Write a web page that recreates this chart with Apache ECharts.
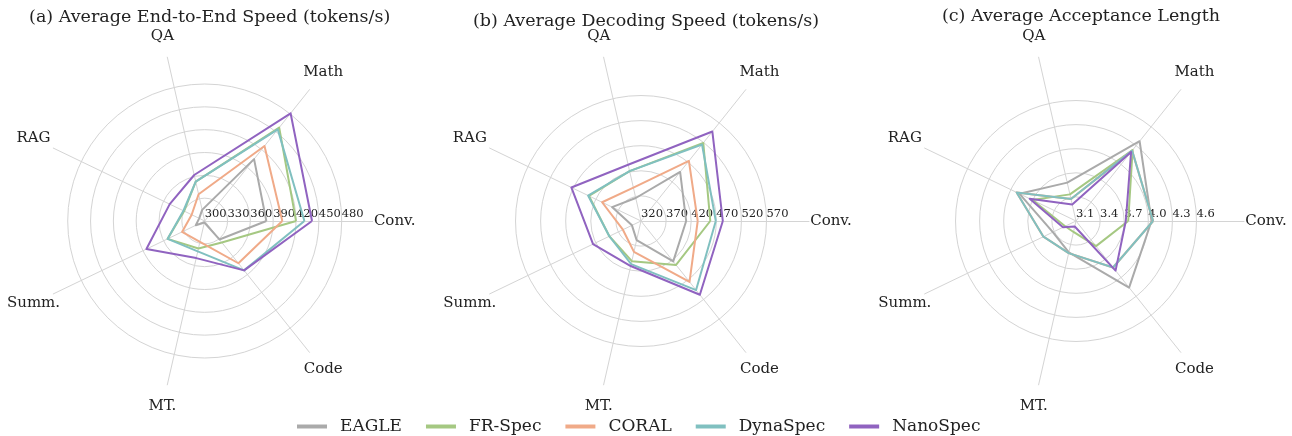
<!DOCTYPE html>
<html>
<head>
<meta charset="utf-8">
<script src="https://cdn.jsdelivr.net/npm/echarts@6/dist/echarts.min.js"></script>
<style>
html, body { margin: 0; padding: 0; background: #fff; }
#main { width: 1292px; height: 436px; }
</style>
</head>
<body>
<div id="main"></div>
<script>
var categories = ['Conv.', 'Math', 'QA', 'RAG', 'Summ.', 'MT.', 'Code'];
var methods = ['EAGLE', 'FR-Spec', 'CORAL', 'DynaSpec', 'NanoSpec'];
var colors = ['#aaaaaa', '#a5c882', '#f0aa88', '#80c0c0', '#9063c0'];

var titles = [
	'(a) Average End-to-End Speed (tokens/s)',
	'(b) Average Decoding Speed (tokens/s)',
	'(c) Average Acceptance Length'
];

// (a) end-to-end speed
var e2eEagle    = [381, 404, 315, 308, 313, 302, 331];
var e2eFrSpec   = [420, 457, 353, 330, 354, 337, 336];
var e2eCoral    = [402, 426, 336, 319, 333, 328, 371];
var e2eDynaSpec = [431, 454, 353, 331, 354, 341, 383];
var e2eNanoSpec = [441, 481, 362, 351, 385, 350, 383];
var e2eScale = [300, 480, 6]; // min, max, rings

// (b) decoding speed
var decEagle    = [410, 445, 367, 384, 340, 359, 423];
var decFrSpec   = [458, 519, 422, 435, 390, 402, 432];
var decCoral    = [433, 473, 388, 406, 360, 383, 475];
var decDynaSpec = [469, 515, 422, 437, 390, 408, 496];
var decNanoSpec = [483, 548, 435, 474, 426, 412, 508];
var decScale = [320, 570, 5];

// (c) acceptance length
var accEagle    = [4.04, 4.37, 3.59, 3.88, 3.42, 3.50, 4.16];
var accFrSpec   = [3.75, 4.23, 3.44, 3.70, 3.25, 3.24, 3.50];
var accCoral    = [4.06, 4.22, 3.38, 3.92, 3.55, 3.51, 3.84];
var accDynaSpec = [4.06, 4.22, 3.38, 3.92, 3.55, 3.51, 3.84];
var accNanoSpec = [3.72, 4.20, 3.31, 3.74, 3.28, 3.17, 3.89];
var accScale = [3.1, 4.6, 5];

var panels = [
	{ data: [e2eEagle, e2eFrSpec, e2eCoral, e2eDynaSpec, e2eNanoSpec], scale: e2eScale, dec: 0 },
	{ data: [decEagle, decFrSpec, decCoral, decDynaSpec, decNanoSpec], scale: decScale, dec: 0 },
	{ data: [accEagle, accFrSpec, accCoral, accDynaSpec, accNanoSpec], scale: accScale, dec: 1 }
];

// layout
var centersX = [204.7, 641, 1076];
var centerY = 221;
var ringRadius = [137, 125.5, 120.5];
var spokeRadius = 168;
var titleTop = [3, 7, 2];
var FONT = 'DejaVu Serif';
var GRID = '#d4d4d4';
var TXT = '#222';

var radars = [];
var series = [];
var titleList = [];

panels.forEach(function (p, k) {
	var dec = p.dec;
	// ring radar that carries the data and the radial tick labels
	radars.push({
		center: [centersX[k], centerY],
		radius: ringRadius[k],
		startAngle: 0,
		shape: 'circle',
		splitNumber: p.scale[2],
		indicator: categories.map(function (c, i) {
			var o = { name: c, min: p.scale[0], max: p.scale[1] };
			if (i === 0) o.axisLabel = { show: true };
			return o;
		}),
		axisName: { show: false },
		axisLine: { show: false },
		axisTick: { show: false },
		splitLine: { lineStyle: { color: GRID, width: 1 } },
		splitArea: { show: false },
		axisLabel: {
			show: false,
			color: TXT,
			fontFamily: FONT,
			fontSize: 11.5,
			align: 'left',
			verticalAlign: 'bottom',
			margin: 1,
			formatter: function (v) { return Number(v).toFixed(dec); }
		}
	});
	titleList.push({
		text: titles[k],
		left: centersX[k],
		top: titleTop[k],
		textAlign: 'center',
		textStyle: { fontFamily: FONT, fontSize: 17.5, fontWeight: 'normal', color: TXT }
	});
	series.push({
		type: 'radar',
		radarIndex: k,
		symbol: 'none',
		data: methods.map(function (m, j) {
			return {
				name: m,
				value: p.data[j],
				lineStyle: { color: colors[j], width: 2 },
				itemStyle: { color: colors[j] }
			};
		})
	});
});

// spoke radars: longer axis lines and the category names
panels.forEach(function (p, k) {
	radars.push({
		center: [centersX[k], centerY],
		radius: spokeRadius,
		startAngle: 0,
		shape: 'circle',
		indicator: categories.map(function (c) { return { name: c, min: 0, max: 1 }; }),
		axisNameGap: 22,
		axisName: { color: TXT, fontFamily: FONT, fontSize: 15, align: 'center', verticalAlign: 'middle' },
		axisLine: { lineStyle: { color: GRID, width: 1 } },
		splitLine: { show: false },
		splitArea: { show: false }
	});
});

var myChart = echarts.init(document.getElementById('main'));
myChart.setOption({
	animation: false,
	backgroundColor: '#fff',
	title: titleList,
	legend: {
		data: methods,
		left: 292,
		top: 413,
		icon: 'rect',
		itemWidth: 30,
		itemHeight: 4,
		itemGap: 24,
		textStyle: { fontFamily: FONT, fontSize: 17, color: TXT, padding: [0, 0, 0, 8] }
	},
	radar: radars,
	series: series
});
</script>
</body>
</html>
